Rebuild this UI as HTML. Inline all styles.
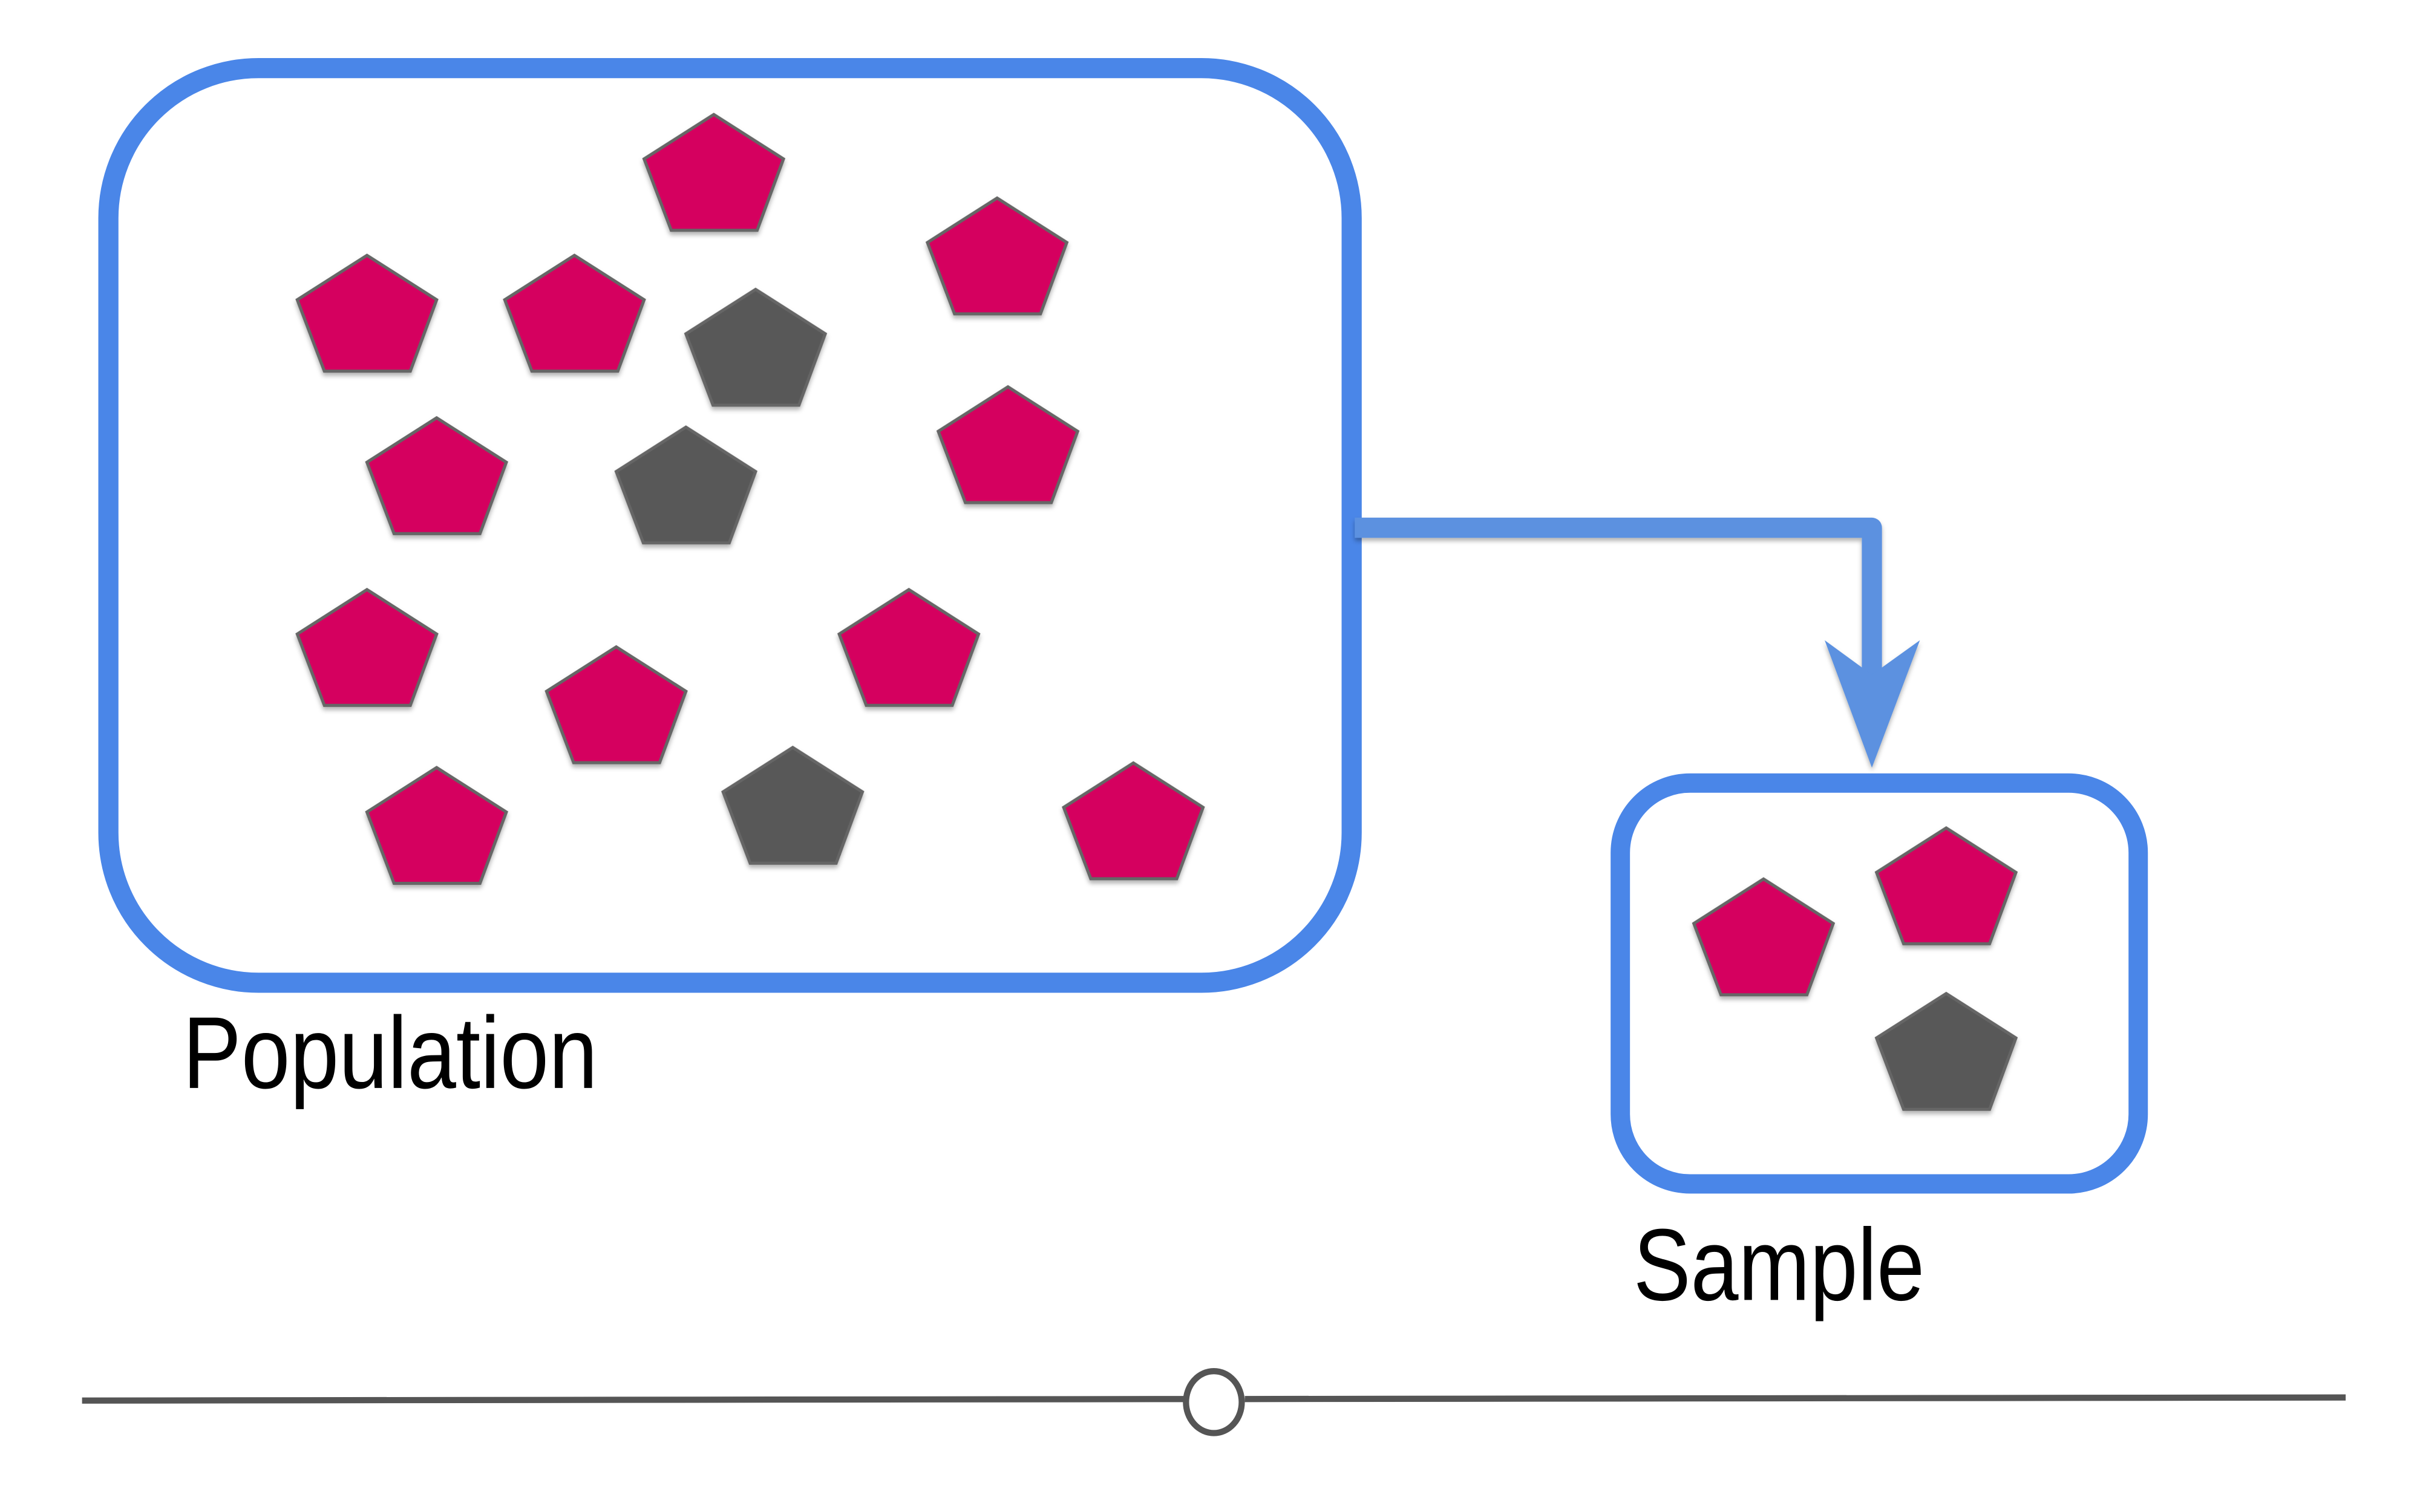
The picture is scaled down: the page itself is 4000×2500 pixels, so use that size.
<!DOCTYPE html>
<html><head><meta charset="utf-8"><style>html,body{margin:0;padding:0;background:#fff}svg{display:block}</style></head>
<body>
<svg width="4000" height="2500" viewBox="0 0 1563 977" preserveAspectRatio="none" xmlns="http://www.w3.org/2000/svg">
<defs>
<filter id="sh" x="-20%" y="-20%" width="140%" height="150%"><feDropShadow dx="0" dy="2" stdDeviation="1.5" flood-color="#000" flood-opacity="0.3"/></filter>
<polygon id="p" points="0,0 45,28.7 28,74.8 -27.5,74.8 -45,28.7"/>
</defs>
<rect x="70" y="44" width="803" height="591" rx="97" ry="97" fill="none" stroke="#4a86e8" stroke-width="13"/>
<rect x="1046.5" y="506" width="334.5" height="259" rx="45" ry="45" fill="none" stroke="#4a86e8" stroke-width="12.5"/>
<g filter="url(#sh)">
<path d="M875,341 H1209 V440" fill="none" stroke="#5b91e0" stroke-width="13" stroke-linejoin="round"/>
<polygon points="1178.5,413.7 1209,436 1240,413.7 1209,496" fill="#5b91e0"/>
</g>
<g fill="#d5005f" stroke="#666" stroke-width="2" filter="url(#sh)">
<use href="#p" x="461" y="74"/>
<use href="#p" x="644" y="128"/>
<use href="#p" x="237" y="165"/>
<use href="#p" x="371" y="165"/>
<use href="#p" x="282" y="270"/>
<use href="#p" x="651" y="250"/>
<use href="#p" x="237" y="381"/>
<use href="#p" x="587" y="381"/>
<use href="#p" x="398" y="418"/>
<use href="#p" x="282" y="496"/>
<use href="#p" x="732" y="493"/>
<use href="#p" x="1139" y="568"/>
<use href="#p" x="1257" y="535"/>
</g>
<g fill="#595959" stroke="#666" stroke-width="2" filter="url(#sh)">
<use href="#p" x="488" y="187"/>
<use href="#p" x="443" y="276"/>
<use href="#p" x="512" y="483"/>
<use href="#p" x="1257" y="642"/>
</g>
<text x="118" y="703" font-family="Liberation Sans, sans-serif" font-size="66" textLength="268" lengthAdjust="spacingAndGlyphs" fill="#000">Population</text>
<text x="1055" y="840" font-family="Liberation Sans, sans-serif" font-size="66" textLength="188" lengthAdjust="spacingAndGlyphs" fill="#000">Sample</text>
<line x1="53" y1="905" x2="765" y2="904" stroke="#555" stroke-width="4"/>
<line x1="804" y1="904" x2="1515" y2="903" stroke="#555" stroke-width="4"/>
<ellipse cx="784" cy="906" rx="18" ry="20" fill="#fff" stroke="#555" stroke-width="4"/>
</svg>
</body></html>
